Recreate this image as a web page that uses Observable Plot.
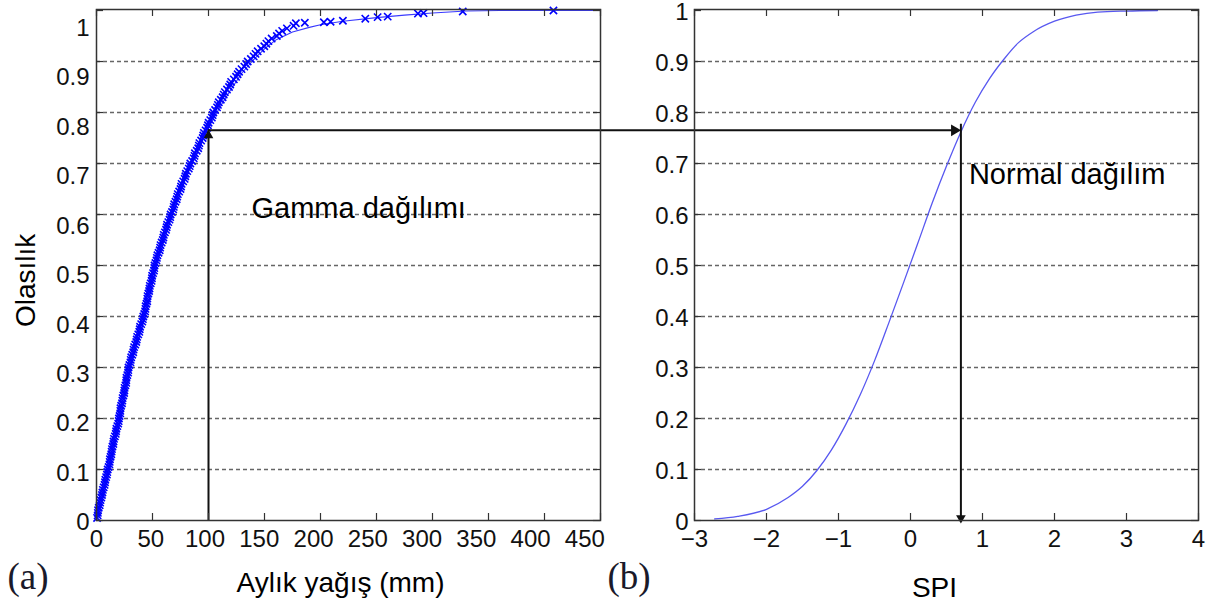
<!DOCTYPE html>
<html>
<head>
<meta charset="utf-8">
<script src="https://cdn.jsdelivr.net/npm/d3@7"></script>
<script src="https://cdn.jsdelivr.net/npm/@observablehq/plot@0.6"></script>
<style>
  body { margin: 0; background: #fff; }
  #wrap { position: relative; width: 1222px; height: 607px; overflow: hidden; background: #fff; }
  #wrap svg { position: absolute; top: 0; }
</style>
</head>
<body>
<div id="wrap"></div>
<script>
// ---------- data ----------
const probTicks = [0, 0.1, 0.2, 0.3, 0.4, 0.5, 0.6, 0.7, 0.8, 0.9, 1];
const rainTicks = [0, 50, 100, 150, 200, 250, 300, 350, 400, 450];
const spiTicks = [-3, -2, -1, 0, 1, 2, 3, 4];

// fitted gamma CDF (thin line)
const gammaRain = [0, 5, 10, 20, 30, 40, 50, 60, 70, 80, 90, 100, 110, 120, 130, 140, 150, 160, 175, 190, 200, 220, 250, 275, 300, 330, 360, 400, 450];
const gammaProb = [0, 0.045, 0.095, 0.2, 0.3, 0.395, 0.485, 0.56, 0.625, 0.685, 0.73, 0.77, 0.81, 0.845, 0.878, 0.903, 0.925, 0.942, 0.958, 0.967, 0.972, 0.979, 0.986, 0.991, 0.995, 0.999, 1.0, 1.0, 1.0];

const obsRain = [0.5, 1.2, 2.0, 3.2, 4.3, 5.3, 6.4, 7.6, 8.6, 9.6,
  10.8, 11.8, 12.6, 13.5, 14.3, 15.2, 16.4, 17.5, 18.6, 19.8,
  20.6, 21.3, 22.0, 23.1, 24.0, 24.9, 25.8, 26.6, 27.5, 28.4,
  29.4, 30.6, 31.9, 33.1, 34.6, 35.9, 37.3, 38.6, 39.9, 41.4,
  42.6, 43.7, 44.6, 45.4, 46.3, 47.3, 48.4, 49.5, 50.5, 51.6,
  52.6, 53.9, 55.4, 56.8, 58.2, 59.7, 61.1, 62.6, 64.1, 65.8,
  67.4, 69.0, 70.5, 72.1, 73.8, 75.5, 77.4, 79.3, 81.0, 83.2,
  85.4, 87.5, 89.5, 91.4, 93.4, 95.3, 97.4, 99.5, 101.6, 103.7,
  105.9, 108.4, 111.0, 113.6, 116.5, 119.4, 122.6, 126.0, 129.5, 133.6,
  137.8, 142.0, 146.9, 151.7, 156.4, 163.0, 170.0, 178.0,
  186, 203, 209, 220, 240, 251, 260, 287, 292, 327, 408,
  1.0, 1.4, 2.8, 3.6, 4.9, 5.7, 7.2, 7.9, 9.3, 10.0,
  11.5, 12.0, 13.2, 13.8, 15.0, 15.6, 17.2, 17.8, 19.4, 20.0,
  21.2, 21.4, 22.8, 23.3, 24.7, 25.1, 26.5, 26.8, 28.2, 28.6,
  30.3, 31.0, 32.8, 33.6, 35.5, 36.3, 38.2, 38.9, 40.9, 41.8,
  43.4, 43.9, 45.3, 45.6, 47.0, 47.6, 49.2, 49.7, 51.3, 51.8,
  53.5, 54.4, 56.4, 57.2, 59.2, 60.1, 62.1, 63.0, 65.2, 66.2,
  68.5, 69.4, 71.6, 72.6, 75.0, 76.0, 78.7, 79.8, 82.4, 83.8,
  86.8, 87.9, 90.8, 91.9, 94.8, 95.9, 98.8, 100.1, 103.0, 104.3,
  107.6, 109.2, 112.6, 114.6, 118.3, 120.2, 124.6, 127.3, 132.0, 135.0,
  140.3, 143.9, 149.8, 153.5, 161.0, 165.8, 176.0];
const obsProb = [0.005, 0.015, 0.025, 0.035, 0.045, 0.055, 0.065, 0.075, 0.085, 0.095,
  0.105, 0.115, 0.125, 0.135, 0.145, 0.155, 0.165, 0.175, 0.185, 0.195,
  0.205, 0.215, 0.225, 0.235, 0.245, 0.255, 0.265, 0.275, 0.285, 0.295,
  0.305, 0.315, 0.325, 0.335, 0.345, 0.355, 0.365, 0.375, 0.385, 0.395,
  0.405, 0.415, 0.425, 0.435, 0.445, 0.455, 0.465, 0.475, 0.485, 0.495,
  0.505, 0.515, 0.525, 0.535, 0.545, 0.555, 0.565, 0.575, 0.585, 0.595,
  0.605, 0.615, 0.625, 0.635, 0.645, 0.655, 0.665, 0.675, 0.685, 0.695,
  0.705, 0.715, 0.725, 0.735, 0.745, 0.755, 0.765, 0.775, 0.785, 0.795,
  0.805, 0.815, 0.825, 0.835, 0.845, 0.855, 0.865, 0.875, 0.885, 0.895,
  0.905, 0.915, 0.925, 0.935, 0.945, 0.955, 0.965, 0.975,
  0.976, 0.977, 0.978, 0.98, 0.984, 0.987, 0.988, 0.994, 0.995, 0.998, 1.0,
  0.01, 0.02, 0.03, 0.04, 0.05, 0.06, 0.07, 0.08, 0.09, 0.10,
  0.11, 0.12, 0.13, 0.14, 0.15, 0.16, 0.17, 0.18, 0.19, 0.20,
  0.21, 0.22, 0.23, 0.24, 0.25, 0.26, 0.27, 0.28, 0.29, 0.30,
  0.31, 0.32, 0.33, 0.34, 0.35, 0.36, 0.37, 0.38, 0.39, 0.40,
  0.41, 0.42, 0.43, 0.44, 0.45, 0.46, 0.47, 0.48, 0.49, 0.50,
  0.51, 0.52, 0.53, 0.54, 0.55, 0.56, 0.57, 0.58, 0.59, 0.60,
  0.61, 0.62, 0.63, 0.64, 0.65, 0.66, 0.67, 0.68, 0.69, 0.70,
  0.71, 0.72, 0.73, 0.74, 0.75, 0.76, 0.77, 0.78, 0.79, 0.80,
  0.81, 0.82, 0.83, 0.84, 0.85, 0.86, 0.87, 0.88, 0.89, 0.90,
  0.91, 0.92, 0.93, 0.94, 0.95, 0.96, 0.97];

// standard normal CDF (SPI)
const spiValues = [-2.72, -2.4, -2.0, -1.7, -1.5, -1.3, -1.1, -0.9, -0.7, -0.5, -0.3, -0.1, 0.1, 0.3, 0.5, 0.7, 0.9, 1.1, 1.3, 1.5, 1.7, 2.0, 2.3, 2.6, 3.0, 3.43];
const normalProb = [0.003, 0.008, 0.022, 0.045, 0.067, 0.098, 0.138, 0.188, 0.246, 0.313, 0.388, 0.465, 0.543, 0.622, 0.695, 0.762, 0.82, 0.867, 0.905, 0.937, 0.958, 0.979, 0.991, 0.997, 0.999, 1.0];

// example transformation shown by the arrows
const arrowRain = 100;
const arrowProb = 0.765;
const arrowSpi = 0.70;

// ---------- layout / style ----------
const H = 607;
const font = "Liberation Sans, Arial, Helvetica, sans-serif";
const serif = "Liberation Serif, Times New Roman, serif";
const ink = "#111";
const frameCol = "#333";
const gridStyle = {stroke: "#666", strokeDasharray: "4,3", strokeWidth: 1.3};
const inTick = 7;
const labelShrinkA = 0.969; // tick labels of panel (a) are slightly compressed in the source

const WA = 605, mA = {top: 9, right: 5, bottom: 87, left: 96};
const WB = 617, mB = {top: 9, right: 24, bottom: 87, left: 89};
const plotHA = H - mA.top - mA.bottom, plotWA = WA - mA.left - mA.right;
const plotHB = H - mB.top - mB.bottom, plotWB = WB - mB.left - mB.right;

const gridY = probTicks.filter(v => v > 0 && v < 1);
const fitA = gammaRain.map((x, i) => ({x, y: gammaProb[i]}));
const obsA = obsRain.map((x, i) => ({x, y: obsProb[i]}));
const cdfB = spiValues.map((x, i) => ({x, y: normalProb[i]}));
const probFmt = d => String(d);
const intFmt = d3.format("d");

const chartA = Plot.plot({
  width: WA, height: H,
  marginTop: mA.top, marginRight: mA.right, marginBottom: mA.bottom, marginLeft: mA.left,
  x: {domain: [rainTicks[0], rainTicks[rainTicks.length - 1]], axis: null},
  y: {domain: [0, 1.002], axis: null},
  style: {fontFamily: font, fontSize: "24px", color: ink, background: "transparent", overflow: "visible"},
  marks: [
    Plot.ruleY(gridY, gridStyle),
    Plot.line(fitA, {x: "x", y: "y", stroke: "#3a3aff", strokeWidth: 1.1}),
    Plot.dot(obsA, {x: "x", y: "y", symbol: "times", r: 3.4, stroke: "#0000ff", strokeWidth: 1.6}),
    Plot.ruleX([{x: arrowRain, y1: 0, y2: arrowProb}], {x: "x", y1: "y1", y2: "y2", stroke: ink, strokeWidth: 2}),
    Plot.ruleY([{y: arrowProb, x1: arrowRain, x2: rainTicks[rainTicks.length - 1]}], {y: "y", x1: "x1", x2: "x2", insetRight: -mA.right, stroke: ink, strokeWidth: 2}),
    Plot.dot([{x: arrowRain, y: arrowProb}], {x: "x", y: "y", symbol: "triangle", r: 3.6, fill: ink, stroke: "none", dy: 5}),
    Plot.frame({stroke: frameCol, strokeWidth: 1.5}),
    Plot.tickX(rainTicks, {x: d => d, insetTop: plotHA - inTick, stroke: frameCol, strokeWidth: 1.2}),
    Plot.tickX(rainTicks, {x: d => d, insetBottom: plotHA - inTick, stroke: frameCol, strokeWidth: 1.2}),
    Plot.tickY(probTicks, {y: d => d, insetRight: plotWA - inTick, stroke: frameCol, strokeWidth: 1.2}),
    Plot.tickY(probTicks, {y: d => d, insetLeft: plotWA - inTick, stroke: frameCol, strokeWidth: 1.2}),
    // tick labels
    Plot.text(rainTicks, {x: d => d * labelShrinkA, frameAnchor: "bottom", lineAnchor: "top", dy: 9, text: d => String(d), fontSize: 24}),
    Plot.text(probTicks, {y: d => d * labelShrinkA - 0.004, frameAnchor: "left", textAnchor: "end", dx: -7, text: probFmt, fontSize: 24}),
    // titles
    Plot.text(["Aylık yağış (mm)"], {frameAnchor: "bottom", lineAnchor: "top", dx: -8, dy: 52, fontSize: 28, fill: "#000"}),
    Plot.text(["Olasılık"], {frameAnchor: "left", rotate: -90, dx: -70, dy: 62, fontSize: 28, fill: "#000"}),
    Plot.text(["(a)"], {frameAnchor: "bottom-left", textAnchor: "start", lineAnchor: "top", dx: -89, dy: 42, fontSize: 37, fontFamily: serif, fill: "#1a1a2a"}),
    Plot.text([{x: arrowRain, y: arrowProb}], {x: "x", y: "y", text: () => "Gamma dağılımı", textAnchor: "start", lineAnchor: "top", dx: 43, dy: 67, fontSize: 29, fill: "#000"})
  ]
});

const chartB = Plot.plot({
  width: WB, height: H,
  marginTop: mB.top, marginRight: mB.right, marginBottom: mB.bottom, marginLeft: mB.left,
  x: {domain: [spiTicks[0], spiTicks[spiTicks.length - 1]]},
  y: {domain: [0, 1.002]},
  style: {fontFamily: font, fontSize: "24px", color: ink, background: "transparent", overflow: "visible"},
  marks: [
    Plot.ruleY(gridY, gridStyle),
    Plot.line(cdfB, {x: "x", y: "y", stroke: "#5858f0", strokeWidth: 1.3, curve: "monotone-x"}),
    Plot.ruleY([{y: arrowProb, x1: spiTicks[0], x2: arrowSpi}], {y: "y", x1: "x1", x2: "x2", insetLeft: -mB.left, insetRight: 8, stroke: ink, strokeWidth: 2}),
    Plot.ruleX([{x: arrowSpi, y1: 0, y2: arrowProb}], {x: "x", y1: "y1", y2: "y2", insetBottom: 6, stroke: ink, strokeWidth: 2}),
    Plot.dot([{x: arrowSpi, y: arrowProb}], {x: "x", y: "y", symbol: "triangle", r: 4.3, rotate: 90, dx: -6.5, fill: ink, stroke: "none"}),
    Plot.dot([{x: arrowSpi, y: 0}], {x: "x", y: "y", symbol: "triangle", r: 3.6, rotate: 180, dy: -2.5, fill: ink, stroke: "none"}),
    Plot.frame({stroke: frameCol, strokeWidth: 1.5}),
    Plot.tickX(spiTicks, {x: d => d, insetTop: plotHB - inTick, stroke: frameCol, strokeWidth: 1.2}),
    Plot.tickX(spiTicks, {x: d => d, insetBottom: plotHB - inTick, stroke: frameCol, strokeWidth: 1.2}),
    Plot.tickY(probTicks, {y: d => d, insetRight: plotWB - inTick, stroke: frameCol, strokeWidth: 1.2}),
    Plot.tickY(probTicks, {y: d => d, insetLeft: plotWB - inTick, stroke: frameCol, strokeWidth: 1.2}),
    Plot.axisX({ticks: spiTicks, tickSize: 0, tickPadding: 9, fontSize: 24, label: null, tickFormat: intFmt}),
    Plot.axisY({ticks: probTicks, tickSize: 0, tickPadding: 6, fontSize: 24, label: null, tickFormat: probFmt, dy: 2}),
    Plot.text(["SPI"], {frameAnchor: "bottom", lineAnchor: "top", dx: -12, dy: 57, fontSize: 28, fill: "#000"}),
    Plot.text(["(b)"], {frameAnchor: "bottom-left", textAnchor: "start", lineAnchor: "top", dx: -87, dy: 42, fontSize: 37, fontFamily: serif, fill: "#1a1a2a"}),
    Plot.text([{x: arrowSpi, y: arrowProb}], {x: "x", y: "y", text: () => "Normal dağılım", textAnchor: "start", lineAnchor: "top", dx: 8, dy: 33, fontSize: 29, fill: "#000"})
  ]
});

const wrap = document.getElementById("wrap");
chartA.style.left = "0px";
chartB.style.left = WA + "px";
wrap.appendChild(chartA);
wrap.appendChild(chartB);
</script>
</body>
</html>
